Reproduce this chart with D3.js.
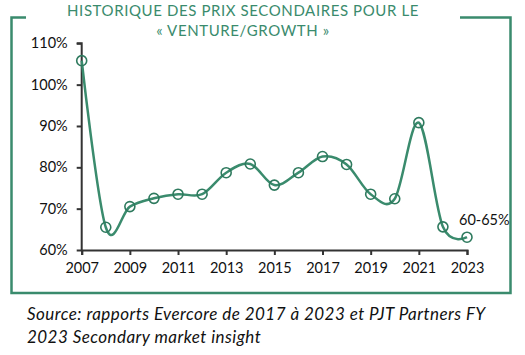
<!DOCTYPE html>
<html><head><meta charset="utf-8">
<script src="https://cdn.jsdelivr.net/npm/d3@7"></script>
<style>body{margin:0;background:#fff}svg{display:block}</style>
</head><body>
<svg id="c" width="525" height="355"></svg>
<script>
const years = [2007,2008,2009,2010,2011,2012,2013,2014,2015,2016,2017,2018,2019,2020,2021,2022,2023];
const prices = [105.8,65.5,70.5,72.5,73.5,73.5,78.7,80.8,75.7,78.7,82.6,80.7,73.5,72.4,90.8,65.6,63.1];
const yTicks = [60,70,80,90,100,110];
const xTicks = [2007,2009,2011,2013,2015,2017,2019,2021,2023];
const titleLines = ["HISTORIQUE DES PRIX SECONDAIRES POUR LE","« VENTURE/GROWTH »"];
const endLabel = "60-65%";
const sourceLines = ["Source: rapports Evercore de 2017 à 2023 et PJT Partners FY","2023 Secondary market insight"];

const green = "#3a8b6d", dark = "#2e7a5e";
const svg = d3.select("#c");
const font = "Lato, 'Open Sans', sans-serif";

// frame
svg.append("path").attr("d","M26,17.5 H11.5 V293 H510.5 V17.5 H460")
  .attr("fill","none").attr("stroke",green).attr("stroke-width",2.5);

// title
svg.selectAll("text.title").data(titleLines).join("text").attr("class","title")
  .attr("x",243).attr("y",(d,i)=>16+i*19.5).attr("text-anchor","middle")
  .attr("font-family",font).attr("font-size",15).attr("letter-spacing",0.6)
  .attr("fill",green).text(d=>d);

const x = d3.scaleLinear().domain([2007,2023]).range([81.7,467]);
const y = d3.scaleLinear().domain([60,110]).range([250,43.3]);

const gy = svg.append("g").attr("transform","translate(81.7,0)")
  .call(d3.axisLeft(y).tickValues(yTicks).tickFormat(d=>d+"%").tickSize(5).tickPadding(9));
const gx = svg.append("g").attr("transform","translate(0,250)")
  .call(d3.axisBottom(x).tickValues(xTicks).tickFormat(d3.format("d")).tickSize(5).tickPadding(8));
[gx,gy].forEach(g=>{
  g.select(".domain").attr("stroke","#333").attr("stroke-width",2);
  g.selectAll(".tick line").attr("stroke","#333").attr("stroke-width",2);
  g.selectAll("text").attr("font-family",font).attr("font-size",14.5).attr("fill","#111");
});
gy.select(".domain").attr("d","M-5,43.3H0V250");

const line = d3.line().x((d,i)=>x(years[i])).y(d=>y(d)).curve(d3.curveCatmullRom.alpha(0));
svg.append("path").attr("d",line(prices)).attr("fill","none")
  .attr("stroke",green).attr("stroke-width",2.5);
svg.selectAll("circle").data(prices).join("circle")
  .attr("cx",(d,i)=>x(years[i])).attr("cy",d=>y(d)).attr("r",5)
  .attr("fill","none").attr("stroke",dark).attr("stroke-width",1.6);

svg.append("text").attr("x",459).attr("y",225).attr("font-family",font)
  .attr("font-size",14.5).attr("fill","#111").text(endLabel);

svg.selectAll("text.src").data(sourceLines).join("text").attr("class","src")
  .attr("x",27).attr("y",(d,i)=>320+i*23).attr("font-family",font)
  .attr("font-style","italic").attr("font-size",17).attr("letter-spacing",0.45)
  .attr("fill","#111").text(d=>d);
</script>
</body></html>
